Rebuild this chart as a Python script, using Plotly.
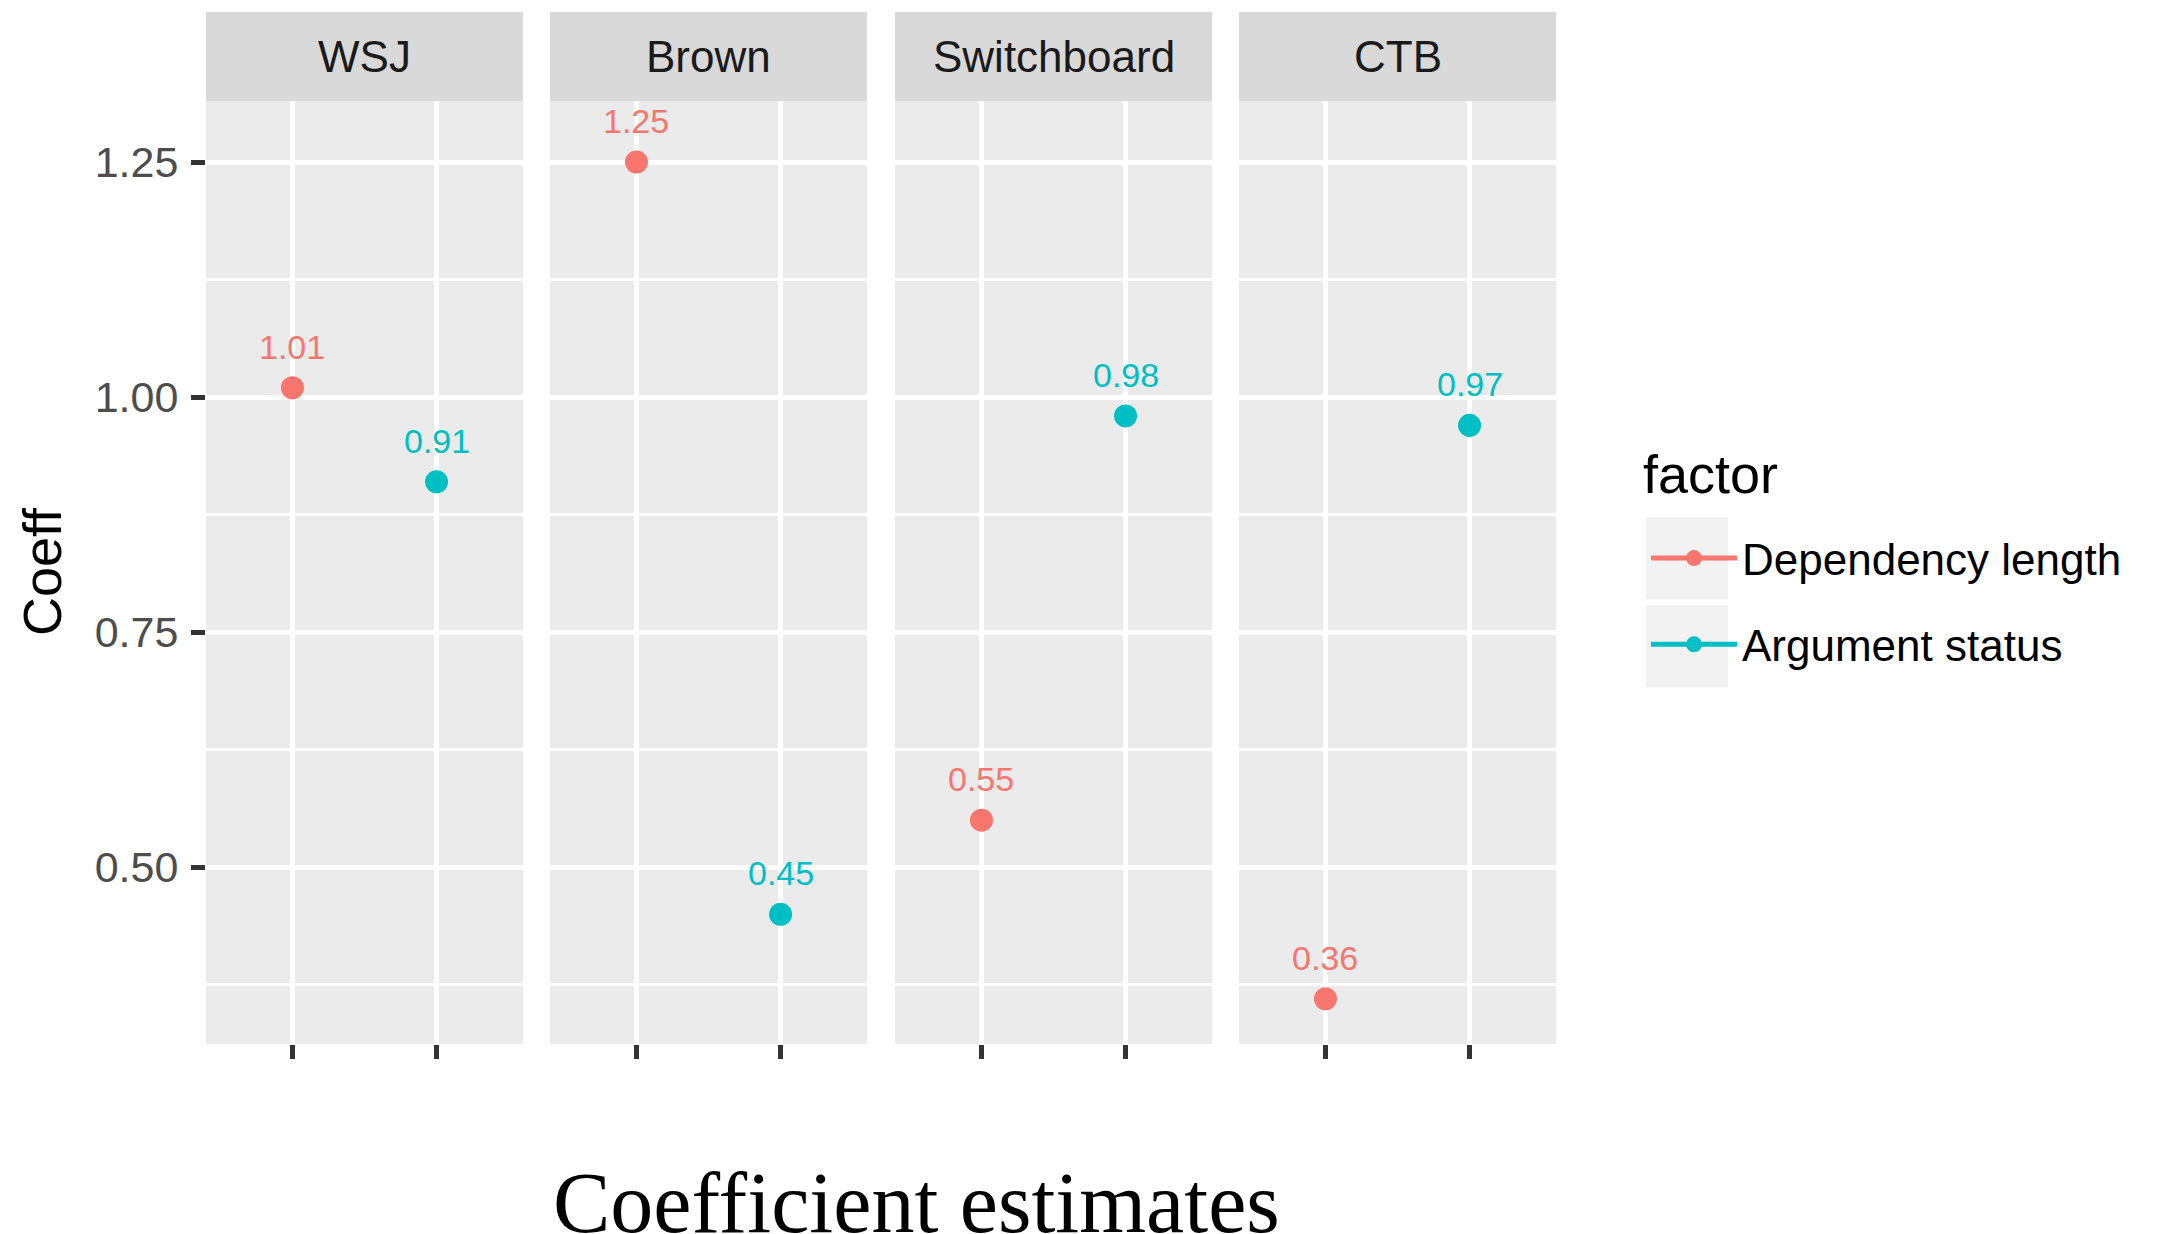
import plotly.graph_objects as go

# ---- data ----
corpora = ["WSJ", "Brown", "Switchboard", "CTB"]
factors = ["Dependency length", "Argument status"]
dep_length = [1.01, 1.25, 0.55, 0.36]
arg_status = [0.91, 0.45, 0.98, 0.97]
dep_err = [0.0, 0.0, 0.0, 0.0]
arg_err = [0.0, 0.0, 0.0, 0.012]
y_ticks = [0.50, 0.75, 1.00, 1.25]
y_tick_labels = ["0.50", "0.75", "1.00", "1.25"]
y_minor = [0.375, 0.625, 0.875, 1.125]

colors = {"Dependency length": "#F8766D", "Argument status": "#00BFC4"}
series = {"Dependency length": (dep_length, dep_err), "Argument status": (arg_status, arg_err)}

OFF = 8  # page body margin
W, H = 2157 - OFF, 1234 - OFF
panel_left = [206, 550, 895, 1239]
panel_w = 317
panel_top, panel_bot = 101, 1044
strip_top = 12

def px_x(p):
    return (p - OFF) / W

def px_y(p):
    return 1 - (p - OFF) / H

fig = go.Figure()
SANS = "Liberation Sans, Arial, Helvetica, sans-serif"

for i, corp in enumerate(corpora):
    xa = "x" if i == 0 else f"x{i+1}"
    ya = "y" if i == 0 else f"y{i+1}"
    for f in factors:
        vals, errs = series[f]
        fig.add_trace(go.Scatter(
            x=[f], y=[vals[i]], mode="lines+markers",
            name=f, legendgroup=f, showlegend=(i == 0),
            marker=dict(color=colors[f], size=23),
            line=dict(color=colors[f], width=5),
            error_y=dict(type="data", array=[errs[i]], visible=errs[i] > 0,
                         color=colors[f], thickness=5, width=0),
            xaxis=xa, yaxis=ya, hoverinfo="x+y",
        ))
        fig.add_annotation(
            x=f, y=vals[i], xref=xa, yref=ya, text=f"{vals[i]:.2f}",
            showarrow=False, yanchor="bottom", yshift=20,
            font=dict(family=SANS, size=34, color=colors[f]),
        )

    dom = [px_x(panel_left[i]), px_x(panel_left[i] + panel_w)]
    xkey = "xaxis" if i == 0 else f"xaxis{i+1}"
    ykey = "yaxis" if i == 0 else f"yaxis{i+1}"
    fig.update_layout({
        xkey: dict(
            domain=dom, anchor=ya, type="category",
            categoryorder="array", categoryarray=factors,
            range=[-0.6, 1.6], showticklabels=False,
            ticks="outside", ticklen=14, tickwidth=5, tickcolor="#333333",
            showgrid=True, gridcolor="white", gridwidth=5,
            zeroline=False, showline=False, fixedrange=True,
        ),
        ykey: dict(
            domain=[px_y(panel_bot), px_y(panel_top)], anchor=xa,
            range=[0.312, 1.315], tickvals=y_ticks, ticktext=y_tick_labels,
            showticklabels=(i == 0),
            ticks="outside" if i == 0 else "", ticklen=14, tickwidth=5,
            tickcolor="#333333", ticklabelstandoff=4,
            tickfont=dict(family=SANS, size=43, color="#4D4D4D"),
            showgrid=True, gridcolor="white", gridwidth=5,
            minor=dict(tickvals=y_minor, showgrid=True, gridcolor="white", gridwidth=2.5, ticks=""),
            zeroline=False, showline=False, fixedrange=True,
            **({} if i == 0 else {"matches": "y"}),
        ),
    })
    # facet strip
    fig.add_shape(type="rect", xref="paper", yref="paper",
                  x0=dom[0], x1=dom[1], y0=px_y(panel_top), y1=px_y(strip_top),
                  fillcolor="#D9D9D9", line=dict(width=0), layer="below")
    fig.add_annotation(x=(dom[0] + dom[1]) / 2, y=px_y((strip_top + panel_top) / 2),
                       xref="paper", yref="paper", text=corp, showarrow=False,
                       xanchor="center", yanchor="middle",
                       font=dict(family=SANS, size=44, color="#1A1A1A"))

# legend key backgrounds
for top in [517, 605]:
    fig.add_shape(type="rect", xref="paper", yref="paper",
                  x0=px_x(1646), x1=px_x(1728), y0=px_y(top + 82), y1=px_y(top),
                  fillcolor="#F2F2F2", line=dict(width=0), layer="below")

# legend title
fig.add_annotation(x=px_x(1641), y=px_y(474), xref="paper", yref="paper",
                   text="factor", showarrow=False, xanchor="left", yanchor="middle",
                   font=dict(family=SANS, size=54, color="black"))

# axis titles
fig.add_annotation(x=px_x(42), y=px_y(572), xref="paper", yref="paper",
                   text="Coeff", textangle=-90, showarrow=False,
                   xanchor="center", yanchor="middle",
                   font=dict(family=SANS, size=54, color="black"))
fig.add_annotation(x=px_x(916), y=px_y(1203), xref="paper", yref="paper",
                   text="Coefficient estimates", showarrow=False,
                   xanchor="center", yanchor="middle",
                   font=dict(family="Liberation Serif, Times New Roman, serif", size=86, color="black"))

fig.update_layout(
    width=W, height=H, margin=dict(l=0, r=0, t=0, b=0),
    paper_bgcolor="white", plot_bgcolor="#EBEBEB",
    showlegend=True,
    legend=dict(
        x=px_x(1646), y=px_y(523), xanchor="left", yanchor="top",
        font=dict(family=SANS, size=44, color="black"),
        tracegroupgap=26, itemwidth=86, bgcolor="rgba(0,0,0,0)",
        traceorder="grouped",
    ),
)

fig.write_html("out.html")
